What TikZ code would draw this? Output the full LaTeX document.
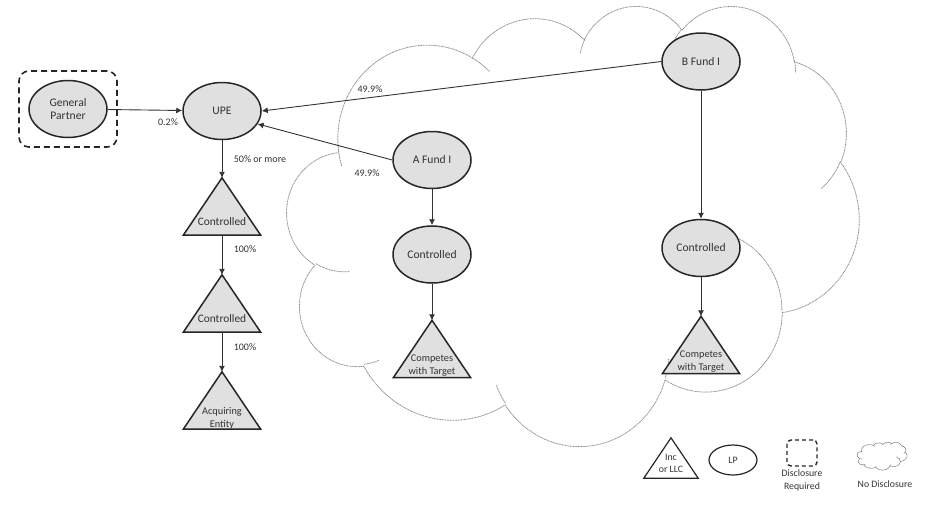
\documentclass[tikz,border=0pt]{standalone}
\usepackage{fontspec}
\setmainfont{Carlito}
\usetikzlibrary{shapes.geometric,arrows.meta}
% elliptical arc with DrawingML (visual) angles
\newcommand\carc[4]{arc[x radius=#1,y radius=#2,start angle={atan2((#1)*sin(#3),(#2)*cos(#3))},delta angle={mod(atan2((#1)*sin((#3)+(#4)),(#2)*cos((#3)+(#4)))-atan2((#1)*sin(#3),(#2)*cos(#3))+720,360)}]}
\newcommand\officecloud[1]{%
  \draw[#1] (3.900,14.370) \carc{6.753}{9.190}{-190.48748}{123.78053}
    \carc{5.333}{7.267}{-144.10238}{89.94523}
    \carc{4.365}{5.945}{-145.80792}{99.72302}
    \carc{4.857}{6.595}{-130.98607}{117.24173}
    \carc{5.333}{7.273}{-78.70888}{109.02692}
    \carc{6.775}{9.220}{-46.26725}{130.269}
    \carc{5.785}{7.867}{0.62502}{114.03333}
    \carc{6.752}{9.215}{22.4516}{115.17255}
    \carc{7.720}{10.543}{66.24263}{75.71102}
    \carc{4.360}{5.918}{-274.94208}{146.73557}
    \carc{4.345}{5.945}{-246.8285}{152.51885} -- cycle;
  \draw[#1] (4.693,26.177) \carc{4.345}{5.945}{86.742}{26.4295}
    (6.928,34.899) \carc{4.360}{5.918}{73.61047}{11.44747}
    (16.478,39.090) \carc{6.752}{9.215}{137.62415}{14.0811}
    (28.827,34.751) \carc{6.752}{9.215}{6.45327}{15.99835}
    (34.129,22.954) \carc{5.785}{7.867}{-70.29235}{70.91737}
    (41.798,15.354) \carc{5.333}{7.273}{30.31803}{27.7515}
    (38.324,5.426) \carc{4.857}{6.595}{-13.74433}{14.8589}
    (29.078,3.952) \carc{4.857}{6.595}{-149.18145}{18.19537}
    (22.141,4.720) \carc{4.365}{5.945}{-163.49427}{17.68635}
    (14.000,5.192) \carc{6.753}{9.190}{-66.70695}{12.31935}
    (4.127,15.789) \carc{6.753}{9.190}{157.65435}{11.85817};
}
\tikzset{
  ent/.style={ellipse, draw=black!85, line width=1.5pt, fill=black!12, minimum width=78pt, minimum height=57pt, inner sep=0pt, font=\fontsize{11.6}{13.5}\selectfont, text=black!80, align=center},
  tribox/.style={draw=none, minimum width=77pt, minimum height=57pt, inner sep=0pt},
  trishape/.style={draw=black!85, line width=1.5pt, fill=black!12, line join=miter},
  tritext/.style={font=\fontsize{11.4}{13}\selectfont, text=black!80, align=center, inner sep=0pt},
  tritextsm/.style={font=\fontsize{10.3}{13}\selectfont, text=black!80, align=center, inner sep=0pt},
  arr/.style={-{Latex[length=6pt,width=6pt]}, draw=black!80, line width=0.9pt},
  pct/.style={font=\fontsize{10}{11}\selectfont, text=black!80, inner sep=0pt},
  cloudline/.style={draw=black!45, line width=0.8pt, dash pattern=on 1pt off 0.6pt},
  smallcloud/.style={draw=black!55, line width=0.6pt, dash pattern=on 0.8pt off 0.5pt},
  discbox/.style={draw=black!85, line width=1.6pt, dash pattern=on 6pt off 4pt, rounded corners=10pt},
  legtext/.style={font=\fontsize{9.8}{12.5}\selectfont, text=black!80, align=center, inner sep=0pt},
}
\begin{document}
\begin{tikzpicture}[x=1pt, y=-1pt]
\useasboundingbox (0,0) rectangle (934,520);
% big cloud (no disclosure)
\begin{scope}[shift={(287,5)}, x=13.2407pt, y=-10.1852pt]
  \officecloud{cloudline}
\end{scope}
% disclosure box
\node[discbox, minimum width=98pt, minimum height=76pt] (gpbox) at (68,109) {};
% entities
\node[ent] (gp) at (68,109) {General\\Partner};
\node[ent] (upe) at (222,111) {UPE};
\node[ent] (af) at (432,160) {A Fund I};
\node[ent] (ca) at (432,254.5) {Controlled};
\node[ent] (bf) at (701,61.5) {B Fund I};
\node[ent] (cb) at (701,248) {Controlled};
% triangles
\node[tribox] (t1) at (222,206.5) {};
\node[tribox] (t2) at (222,303.5) {};
\node[tribox] (t3) at (222,400.5) {};
\node[tribox] (ta) at (432,349) {};
\node[tribox] (tb) at (701,345) {};
\foreach \t in {t1,t2,t3,ta,tb}
  \draw[trishape] (\t.south west) -- (\t.north) -- (\t.south east) -- cycle;
\node[tritext] (t1t) at (222,222) {Controlled};
\node[tritext] (t2t) at (222,319) {Controlled};
\node[tritextsm] (t3t) at (222,418) {Acquiring\\Entity};
\node[tritextsm] (tat) at (432,365.5) {Competes\\with Target};
\node[tritextsm] (tbt) at (701,362) {Competes\\with Target};
% connectors
\draw[arr] (gp) -- (upe);
\draw[arr] (upe) -- (t1);
\draw[arr] (t1) -- (t2);
\draw[arr] (t2) -- (t3);
\draw[arr] (bf.west) -- (upe.east);
\draw[arr] (af.west) -- (upe.-20);
\draw[arr] (af) -- (ca);
\draw[arr] (ca) -- (ta);
\draw[arr] (bf) -- (cb);
\draw[arr] (cb) -- (tb);
% percentages
\node[pct] (l02) at (168,122) {0.2\%};
\node[pct] (l50) at (260,159) {50\% or more};
\node[pct] (l100a) at (245,249) {100\%};
\node[pct] (l100b) at (245,347) {100\%};
\node[pct] (l499b) at (370,89) {49.9\%};
\node[pct] (l499a) at (367,173) {49.9\%};
% legend
\node[draw=none, minimum width=54pt, minimum height=40pt, inner sep=0pt] (ltri) at (671,458) {};
\draw[draw=black!85, line width=1.2pt, fill=white] (ltri.south west) -- (ltri.north) -- (ltri.south east) -- cycle;
\node[legtext] (ltrit) at (671,463.5) {Inc\\or LLC};
\node[ellipse, draw=black!85, line width=1.2pt, fill=white, minimum width=48pt, minimum height=30pt, inner sep=0pt, legtext] (lp) at (733,460) {LP};
\node[draw=black!85, line width=1.4pt, dash pattern=on 4pt off 3pt, rounded corners=4pt, minimum width=30pt, minimum height=26pt, inner sep=0pt] (ldb) at (802,453) {};
\node[legtext] (ldbt) at (802,480.5) {Disclosure\\Required};
\begin{scope}[shift={(857,442)}, x=1.1574pt, y=-0.6481pt]
  \officecloud{smallcloud}
\end{scope}
\node[legtext] (lnd) at (885,484) {No Disclosure};
\end{tikzpicture}
\end{document}
